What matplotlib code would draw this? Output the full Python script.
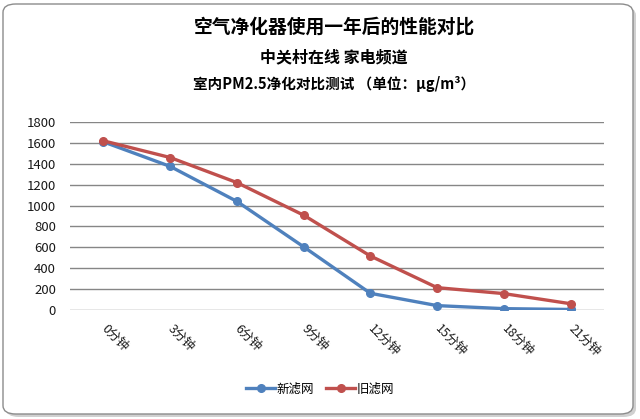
import matplotlib
matplotlib.use("Agg")
import matplotlib.pyplot as plt
from matplotlib.patches import FancyBboxPatch

plt.rcParams['font.family'] = ['Noto Sans CJK SC', 'DejaVu Sans']

categories = ["0分钟", "3分钟", "6分钟", "9分钟", "12分钟", "15分钟", "18分钟", "21分钟"]
new_filter = [1610, 1375, 1040, 605, 160, 42, 13, 5]
old_filter = [1620, 1460, 1220, 908, 517, 214, 157, 60]
series_names = ["新滤网", "旧滤网"]
yticks = [0, 200, 400, 600, 800, 1000, 1200, 1400, 1600, 1800]

title = "空气净化器使用一年后的性能对比"
subtitle = "中关村在线 家电频道"
subtitle2 = "室内PM2.5净化对比测试 （单位：μg/m³）"

fig = plt.figure(figsize=(6.4, 4.19), dpi=100)
fig.patch.set_facecolor('white')

W, H = 640, 419
# shadow and border
shadow = FancyBboxPatch((6/W, 2/H), 630/W, 410/H, boxstyle="round,pad=0,rounding_size=0.02",
                        transform=fig.transFigure, facecolor='#d0d0d0', edgecolor='none', zorder=0)
border = FancyBboxPatch((3/W, 5/H), 630/W, 410/H, boxstyle="round,pad=0,rounding_size=0.02",
                        transform=fig.transFigure, facecolor='white', edgecolor='#8c8c8c', linewidth=1.0, zorder=1)
fig.patches.extend([shadow, border])

ax = fig.add_axes([70/W, 1 - 310/H, (604-70)/W, (310-122)/H])
ax.set_zorder(2)
ax.patch.set_alpha(0)

x = list(range(len(categories)))
ax.plot(x, new_filter, color='#4F81BD', lw=2.4, marker='o', ms=5.5, label=series_names[0], zorder=3)
ax.plot(x, old_filter, color='#C0504D', lw=2.4, marker='o', ms=5.5, label=series_names[1], zorder=3)

ax.set_xlim(-0.5, len(categories) - 0.5)
ax.set_ylim(0, 1800)
ax.set_yticks(yticks)
ax.set_yticklabels([str(v) for v in yticks], fontsize=9.5, color='#1a1a1a')
ax.yaxis.grid(True, color='#868686', lw=1.0)
ax.set_axisbelow(True)
for s in ax.spines.values():
    s.set_visible(False)
ax.tick_params(axis='both', length=0)
ax.tick_params(axis='y', pad=10)
ax.set_xticks(x)
ax.set_xticklabels(categories, rotation=-45, ha='left', va='center', rotation_mode='anchor', fontsize=9, color='#1a1a1a')
ax.tick_params(axis='x', pad=12)
for lbl in ax.get_xticklabels():
    lbl.set_x(lbl.get_position()[0])

cx = 334 / W
fig.text(cx, 1 - 27/H, title, ha='center', va='center', fontsize=13.5, fontweight='bold', zorder=3)
fig.text(cx, 1 - 57/H, subtitle, ha='center', va='center', fontsize=11.5, fontweight='bold', zorder=3)
fig.text(cx, 1 - 84/H, subtitle2, ha='center', va='center', fontsize=10.5, fontweight='bold', zorder=3)

leg = fig.legend(loc='center', bbox_to_anchor=(0.5, 1 - 389/H), ncol=2, frameon=False, fontsize=9,
                 handlelength=2.3, columnspacing=1.0, handletextpad=0.1)

fig.savefig('out.png', dpi=100)
